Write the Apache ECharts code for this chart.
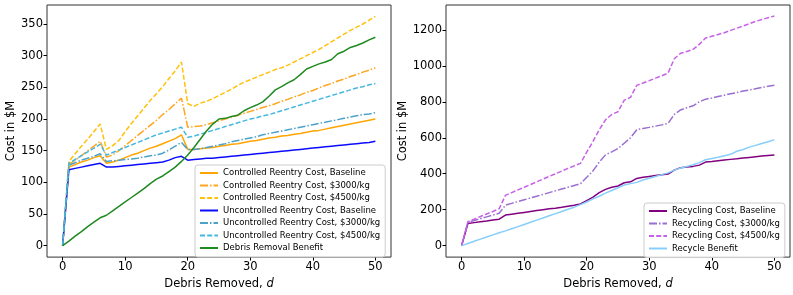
<!DOCTYPE html>
<html>
<head>
<meta charset="utf-8">
<script src="https://cdn.jsdelivr.net/npm/echarts@6/dist/echarts.min.js"></script>
<style>
html,body{margin:0;padding:0;background:#fff;}
#chart{width:793px;height:295px;}
</style>
</head>
<body>
<div id="chart"></div>
<script>
// ---------- DATA ----------
const debrisRemoved = [0,1,2,3,4,5,6,7,8,9,10,11,12,13,14,15,16,17,18,19,20,21,22,23,24,25,26,27,28,29,30,31,32,33,34,35,36,37,38,39,40,41,42,43,44,45,46,47,48,49,50];

const xTicks = [0,10,20,30,40,50];
const leftYTicks = [0,50,100,150,200,250,300,350];
const rightYTicks = [0,200,400,600,800,1000,1200];

const leftNames = [
  'Controlled Reentry Cost, Baseline',
  'Controlled Reentry Cost, $3000/kg',
  'Controlled Reentry Cost, $4500/kg',
  'Uncontrolled Reentry Cost, Baseline',
  'Uncontrolled Reentry Cost, $3000/kg',
  'Uncontrolled Reentry Cost, $4500/kg',
  'Debris Removal Benefit'
];
const rightNames = [
  'Recycling Cost, Baseline',
  'Recycling Cost, $3000/kg',
  'Recycling Cost, $4500/kg',
  'Recycle Benefit'
];

const controlledBaseline = [0,124,128,132,135,139,142,130,132,135,139,143,146,150,154,157,161,165,169,175,152,152,153,154,155,157,158,160,161,163,165,166,168,170,171,173,174,176,177,179,181,182,184,186,188,190,192,194,196,198,200];
const controlled3000 = [0,128,135,142,150,157,165,140,143,150,158,166,174,182,190,198,207,215,224,233,187,188,189,191,194,197,200,203,206,209,212,215,218,221,224,228,231,235,238,242,245,249,253,256,260,263,267,270,274,277,281];
const controlled4500 = [0,133,145,157,168,180,192,152,158,166,180,193,205,217,229,240,251,264,276,290,224,220,225,228,232,237,242,247,253,258,262,266,270,274,278,281,285,290,295,300,305,310,316,322,328,334,340,345,350,356,362];
const uncontrolledBaseline = [0,120,122,124,126,128,130,124,124,125,126,127,128,129,130,131,132,135,139,141,135,136,137,138,138,139,140,141,142,143,144,145,146,147,148,149,150,151,152,153,154,155,156,157,158,159,160,161,162,163,165];
const uncontrolled3000 = [0,127,131,135,138,141,145,133,134,135,136,137,138,140,142,143,146,151,157,163,152,152,153,155,157,159,161,164,166,168,170,172,175,177,179,181,183,185,187,189,191,193,195,197,199,201,203,205,207,208,210];
const uncontrolled4500 = [0,130,136,142,148,154,160,143,147,151,155,159,163,167,171,175,178,181,184,187,171,173,176,179,182,185,188,191,194,197,200,202,205,207,210,213,216,219,222,225,228,231,234,237,240,243,246,249,251,254,256];
const debrisBenefit = [0,7,15,22,30,37,44,48,55,62,69,76,83,90,98,105,110,117,124,133,143,155,168,181,192,200,201,204,206,213,218,222,227,236,246,251,257,262,270,279,283,287,290,294,303,307,313,316,320,325,329];

const recyclingBaseline = [0,123,128,133,137,142,147,170,175,180,185,190,195,200,205,208,213,219,225,232,250,270,295,313,325,332,350,355,374,380,385,390,395,398,420,434,438,441,448,465,468,472,476,480,483,487,491,495,499,502,505];
const recycling3000 = [0,130,140,150,160,170,180,225,235,245,255,265,275,285,295,305,315,325,335,345,380,416,465,505,522,540,570,600,645,652,658,665,672,680,730,755,767,778,800,815,822,830,837,845,852,860,866,873,880,887,893];
const recycling4500 = [0,133,147,162,176,190,205,280,295,310,325,340,355,370,385,400,415,430,444,458,520,580,645,700,730,745,810,825,892,905,918,932,945,960,1040,1070,1080,1092,1120,1155,1165,1175,1185,1198,1210,1222,1235,1248,1258,1268,1278];
const recycleBenefit = [0,12,24,36,48,60,72,82,94,106,118,130,142,154,166,178,190,202,214,228,243,260,275,292,307,322,337,345,352,365,375,385,395,405,420,432,440,450,462,478,485,492,500,508,525,535,548,558,568,578,590];

// ---------- STYLES ----------
const FONT = 'DejaVu Sans';
const AXFS = 11.5;
const DASHED = [5, 2.2];
const DASHDOT = [8, 2, 1.5, 2];

const leftSeriesDefs = [
  {data: controlledBaseline, color: '#FFA500', type: 'solid'},
  {data: controlled3000, color: '#FFA520', type: DASHDOT},
  {data: controlled4500, color: '#FFC10A', type: DASHED},
  {data: uncontrolledBaseline, color: '#0A0AFF', type: 'solid'},
  {data: uncontrolled3000, color: '#4BA3C8', type: DASHDOT},
  {data: uncontrolled4500, color: '#45B8E0', type: DASHED},
  {data: debrisBenefit, color: '#1F8A1F', type: 'solid'}
];
const rightSeriesDefs = [
  {data: recyclingBaseline, color: '#800080', type: 'solid'},
  {data: recycling3000, color: '#9A6FD2', type: DASHDOT},
  {data: recycling4500, color: '#C860E8', type: DASHED},
  {data: recycleBenefit, color: '#87CEFA', type: 'solid'}
];

function pairs(arr){ return debrisRemoved.map((d,i)=>[d, arr[i]]); }

function makeSeries(defs, names, idx){
  return defs.map((s,i)=>({
    name: names[i], type: 'line', xAxisIndex: idx, yAxisIndex: idx,
    data: pairs(s.data), symbol: 'none', showSymbol: false,
    lineStyle: {color: s.color, width: 1.5, type: s.type},
    itemStyle: {color: s.color},
    animation: false, z: 2
  }));
}

function xAxis(idx){
  return {
    type: 'value', gridIndex: idx, min: -2.5, max: 52.5,
    name: 'Debris Removed, {i|d}', nameLocation: 'middle', nameGap: 18,
    nameTextStyle: {fontFamily: FONT, fontSize: AXFS, color: '#000', rich: {i: {fontStyle: 'italic', fontFamily: FONT, fontSize: AXFS}}},
    axisLine: {show: false, onZero: false},
    axisTick: {show: true, inside: false, length: 3.5, customValues: xTicks, lineStyle: {color: '#000', width: 1}},
    axisLabel: {customValues: xTicks, fontFamily: FONT, fontSize: AXFS, color: '#000', margin: 4, formatter: v => String(v)},
    splitLine: {show: false}
  };
}
function yAxis(idx, min, max, ticks, gap){
  return {
    type: 'value', gridIndex: idx, min: min, max: max,
    name: 'Cost in $M', nameLocation: 'middle', nameGap: gap, nameRotate: 90,
    nameTextStyle: {fontFamily: FONT, fontSize: AXFS, color: '#000'},
    axisLine: {show: false, onZero: false},
    axisTick: {show: true, inside: false, length: 3.5, customValues: ticks, lineStyle: {color: '#000', width: 1}},
    axisLabel: {customValues: ticks, fontFamily: FONT, fontSize: AXFS, color: '#000', margin: 4, formatter: v => String(v)},
    splitLine: {show: false}
  };
}

function legend(names, left, top){
  return {
    data: names, orient: 'vertical', left: left, top: top,
    itemWidth: 18, itemHeight: 8, itemGap: 2.5,
    padding: [3, 5, 4, 4],
    backgroundColor: 'rgba(255,255,255,0.8)', borderColor: '#cccccc', borderWidth: 1, borderRadius: 3,
    itemStyle: {color: 'rgba(0,0,0,0)', borderWidth: 0, opacity: 0},
    textStyle: {fontFamily: FONT, fontSize: 8.5, color: '#000', lineHeight: 10},
    selectedMode: false
  };
}

const chart = echarts.init(document.getElementById('chart'), null, {renderer: 'canvas'});
chart.setOption({
  animation: false,
  backgroundColor: '#fff',
  grid: [
    {left: 47, right: 402, top: 5, bottom: 33, show: true, borderColor: '#333', borderWidth: 1, backgroundColor: 'transparent'},
    {left: 446, right: 3, top: 5, bottom: 33, show: true, borderColor: '#333', borderWidth: 1, backgroundColor: 'transparent'}
  ],
  xAxis: [xAxis(0), xAxis(1)],
  yAxis: [yAxis(0, -18.1, 380, leftYTicks, 29), yAxis(1, -63.8, 1339, rightYTicks, 36)],
  legend: [legend(leftNames, 195, 165), legend(rightNames, 644, 203)],
  series: makeSeries(leftSeriesDefs, leftNames, 0).concat(makeSeries(rightSeriesDefs, rightNames, 1))
});
</script>
</body>
</html>
